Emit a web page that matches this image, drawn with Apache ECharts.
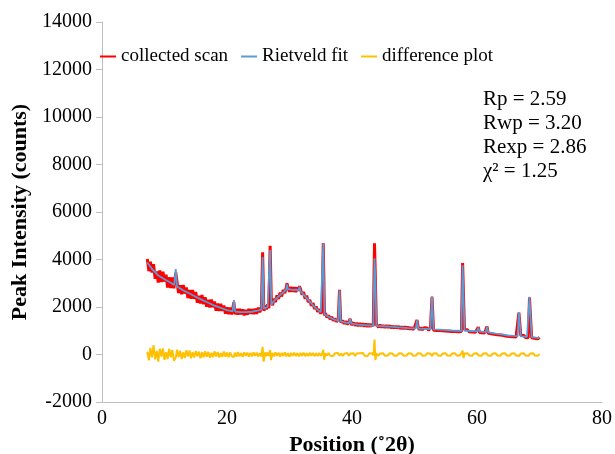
<!DOCTYPE html>
<html>
<head>
<meta charset="utf-8">
<script src="https://cdn.jsdelivr.net/npm/echarts@6/dist/echarts.min.js"></script>
<style>
  html, body { margin: 0; padding: 0; background: #fff; }
  #chartmain { width: 615px; height: 454px; }
</style>
</head>
<body>
<div id="chartmain"></div>
<script>
// axis ticks
var xTicks = [0, 20, 40, 60, 80];
var yTicks = [-2000, 0, 2000, 4000, 6000, 8000, 10000, 12000, 14000];

var seriesNames = ['collected scan', 'Rietveld fit', 'difference plot'];
var fitStats = ['Rp = 2.59', 'Rwp = 3.20', 'Rexp = 2.86', 'χ² = 1.25'];

// collected scan [2θ, counts]
var collected = [
  [7.25,4020],[7.5,3510],[7.75,3910],[8,3450],[8.25,3800],[8.5,3190],[8.75,3500],[9,3030],[9.25,3535],[9.5,3050],
  [9.75,3485],[10,3070],[10.25,3365],[10.5,2820],[10.75,3250],[11,2800],[11.25,3240],[11.5,2790],[11.8,3450],[12,3060],
  [12.25,2590],[12.5,2920],[12.75,2540],[13,2930],[13.25,2565],[13.5,2820],[13.75,2380],[14,2720],[14.25,2345],[14.5,2720],
  [14.75,2345],[15,2630],[15.25,2180],[15.5,2470],[15.75,2145],[16,2500],[16.25,2120],[16.5,2410],[16.75,2010],[17,2300],
  [17.25,1980],[17.5,2310],[17.75,1990],[18,2230],[18.25,1845],[18.5,2150],[18.75,1835],[19,2130],[19.25,1835],[19.5,2060],
  [19.75,1720],[20,1990],[20.25,1700],[20.5,1970],[20.75,1690],[20.9,1900],[21.1,2200],[21.3,1690],[21.5,1920],[21.75,1685],
  [22,1920],[22.25,1688],[22.5,1895],[22.75,1652],[23,1880],[23.25,1675],[23.5,1920],[23.75,1715],[24,1910],[24.25,1705],
  [24.5,1930],[24.75,1715],[25,1970],[25.25,1780],[25.5,1980],[25.7,4300],[25.9,1840],[26.1,2060],[26.3,1905],[26.5,2110],
  [26.7,1950],[26.9,4580],[27.1,2190],[27.3,2080],[27.5,2350],[27.75,2210],[28,2490],[28.25,2340],[28.5,2610],[28.75,2450],
  [29,2720],[29.25,2580],[29.45,2780],[29.6,3000],[29.75,2810],[30,2640],[30.25,2840],[30.5,2640],[30.75,2835],[31,2630],
  [31.25,2825],[31.45,2680],[31.6,2880],[31.75,2760],[32,2520],[32.25,2625],[32.5,2350],[32.75,2475],[33,2200],[33.25,2305],
  [33.5,2050],[33.75,2175],[34,1920],[34.25,2020],[34.5,1800],[34.75,1910],[35,1720],[35.2,1820],[35.4,4680],[35.6,1640],
  [35.75,1730],[36,1560],[36.25,1645],[36.5,1490],[36.75,1580],[37,1430],[37.25,1525],[37.5,1380],[37.8,1475],[38,2720],
  [38.2,1345],[38.5,1430],[38.75,1295],[39,1400],[39.25,1270],[39.5,1370],[39.7,1500],[39.9,1240],[40.25,1345],[40.5,1215],
  [40.75,1328],[41,1200],[41.25,1315],[41.5,1200],[41.75,1305],[42,1180],[42.25,1295],[42.5,1170],[42.75,1285],[43,1170],
  [43.2,1278],[43.4,1190],[43.6,4680],[43.75,3100],[43.9,1250],[44.25,1148],[44.5,1245],[44.75,1142],[45,1230],[45.25,1135],
  [45.5,1230],[45.75,1135],[46,1220],[46.25,1115],[46.5,1200],[46.75,1105],[47,1200],[47.25,1105],[47.5,1190],[47.75,1085],
  [48,1170],[48.25,1075],[48.5,1170],[48.75,1075],[49,1160],[49.25,1058],[49.5,1145],[49.75,1052],[50,1140],[50.2,1080],
  [50.4,1450],[50.6,1130],[50.75,1043],[51,1130],[51.25,1038],[51.5,1125],[51.75,1042],[52,1120],[52.25,1025],[52.55,1110],
  [52.8,2430],[53.05,1020],[53.25,1098],[53.5,1015],[53.75,1092],[54,1010],[54.25,1085],[54.5,1000],[54.75,1075],[55,990],
  [55.25,1065],[55.5,980],[55.75,1055],[56,970],[56.25,1048],[56.5,965],[56.75,1042],[57,960],[57.25,1038],[57.5,965],
  [57.7,3850],[57.85,2400],[58,1040],[58.25,965],[58.5,1040],[58.75,955],[59,1030],[59.25,948],[59.5,1025],[59.75,940],
  [60,1005],[60.2,1150],[60.4,930],[60.6,1005],[60.8,915],[61,990],[61.2,905],[61.4,970],[61.6,1180],[61.8,890],
  [62,965],[62.25,875],[62.5,945],[62.75,853],[63,920],[63.25,832],[63.5,905],[63.75,818],[64,890],[64.25,798],
  [64.5,865],[64.75,772],[65,840],[65.25,755],[65.5,830],[65.75,745],[66,820],[66.25,738],[66.5,805],[66.7,1760],
  [66.85,1320],[67,800],[67.25,722],[67.5,800],[67.75,712],[68,785],[68.2,710],[68.4,2400],[68.55,1650],[68.75,705],
  [69,765],[69.25,678],[69.5,750],[69.75,660],[70,720]
];

// Rietveld fit [2θ, counts]
var rietveld = [
  [7.25,3870],[8,3600],[9,3330],[10,3170],[11,3020],[11.55,2930],[11.8,3600],[12,2860],[13,2700],[14,2570],
  [15,2430],[16,2300],[17,2180],[18,2060],[19,1960],[20,1870],[20.9,1815],[21.1,2290],[21.3,1805],[22,1790],
  [23,1780],[24,1800],[25,1860],[25.5,1900],[25.7,4100],[25.9,1930],[26.5,2000],[26.7,2030],[26.9,4400],[27.1,2100],
  [27.5,2250],[28,2380],[28.5,2500],[29,2620],[29.45,2720],[29.6,2950],[29.75,2750],[30.5,2720],[31,2730],[31.45,2710],
  [31.6,2850],[31.75,2670],[32,2600],[32.5,2450],[33,2300],[33.5,2150],[34,2000],[34.5,1880],[35,1780],[35.2,1760],
  [35.4,4650],[35.6,1690],[36,1620],[37,1490],[37.8,1415],[38,2700],[38.2,1395],[39,1340],[39.5,1320],[39.7,1480],
  [39.9,1300],[41,1260],[42,1240],[43,1220],[43.4,1210],[43.6,4050],[43.75,3100],[43.9,1205],[45,1190],[46,1170],
  [47,1150],[48,1130],[49,1110],[50.2,1100],[50.4,1440],[50.6,1095],[51,1090],[52,1080],[52.55,1070],[52.8,2450],
  [53.05,1060],[54,1050],[55,1030],[56,1010],[57,1000],[57.5,995],[57.7,3760],[57.85,2400],[58,1010],[59,990],
  [60,975],[60.2,1130],[60.4,968],[61,950],[61.4,940],[61.6,1170],[61.8,930],[62,925],[63,880],[64,850],
  [65,800],[66,780],[66.5,775],[66.7,1780],[66.85,1320],[67,765],[68,745],[68.2,740],[68.4,2430],[68.55,1650],
  [68.75,735],[69,725],[70,690]
];

// difference plot [2θ, counts]
var difference = [
  [7.25,120],[7.5,-250],[7.75,280],[8,-120],[8.25,390],[8.5,-200],[8.75,150],[9,-300],[9.25,240],[9.5,-90],
  [9.75,260],[10,-230],[10.25,100],[10.5,-190],[10.75,240],[11,-120],[11.25,190],[11.5,-260],[11.8,-140],[12,200],
  [12.25,-110],[12.5,160],[12.75,-190],[13,90],[13.25,-150],[13.5,180],[13.75,-80],[14,170],[14.25,-160],[14.5,100],
  [14.75,-130],[15,150],[15.25,-70],[15.5,120],[15.75,-160],[16,90],[16.25,-120],[16.5,140],[16.75,-90],[17,110],
  [17.25,-140],[17.5,70],[17.75,-110],[18,130],[18.25,-80],[18.5,100],[18.75,-120],[19,60],[19.25,-100],[19.5,120],
  [19.75,-90],[20,80],[20.25,-110],[20.5,90],[20.75,-70],[21.1,-110],[21.25,80],[21.5,-90],[21.75,100],[22,-80],
  [22.25,60],[22.5,-100],[22.75,90],[23,-60],[23.25,80],[23.5,-90],[23.75,70],[24,-80],[24.25,90],[24.5,-60],
  [24.75,80],[25,-90],[25.25,60],[25.5,-80],[25.7,320],[25.85,-300],[26.1,90],[26.3,-70],[26.5,80],[26.7,-60],
  [26.9,190],[27.05,-240],[27.25,70],[27.5,-80],[27.75,90],[28,-60],[28.25,80],[28.5,-90],[28.75,70],[29,-60],
  [29.25,90],[29.5,-80],[29.75,60],[30,-90],[30.25,70],[30.5,-60],[30.75,80],[31,-70],[31.25,60],[31.5,-80],
  [31.75,70],[32,-60],[32.25,80],[32.5,-70],[32.75,50],[33,-60],[33.25,70],[33.5,-50],[33.75,60],[34,-70],
  [34.25,50],[34.5,-60],[34.75,60],[35,-50],[35.25,40],[35.4,200],[35.55,-220],[35.75,50],[36,-40],[36.25,60],
  [36.5,-50],[36.75,30],[37,-60],[37.25,50],[37.5,-30],[37.75,60],[38,-50],[38.25,40],[38.5,-60],[38.75,30],
  [39,-40],[39.25,60],[39.5,-50],[39.75,40],[40,-30],[40.25,50],[40.5,-60],[40.75,40],[41,-40],[41.25,50],
  [41.5,-30],[41.75,60],[42,-50],[42.25,30],[42.5,-60],[42.75,40],[43,-40],[43.25,50],[43.45,-40],[43.6,630],
  [43.75,-240],[43.9,40],[44.25,-50],[44.5,40],[44.75,-30],[45,50],[45.25,-50],[45.5,30],[45.75,-40],[46,50],
  [46.25,-30],[46.5,40],[46.75,-50],[47,30],[47.25,-40],[47.5,50],[47.75,-30],[48,40],[48.25,-50],[48.5,30],
  [48.75,-40],[49,50],[49.25,-30],[49.5,40],[49.75,-50],[50,30],[50.25,-40],[50.5,50],[50.75,-30],[51,40],
  [51.25,-50],[51.5,30],[51.75,-40],[52,50],[52.25,-30],[52.5,40],[52.8,-60],[53,40],[53.25,-30],[53.5,50],
  [53.75,-40],[54,30],[54.25,-50],[54.5,40],[54.75,-30],[55,50],[55.25,-40],[55.5,30],[55.75,-50],[56,40],
  [56.25,-30],[56.5,50],[56.75,-40],[57,30],[57.25,-40],[57.5,50],[57.7,160],[57.85,-150],[58,40],[58.25,-30],
  [58.5,50],[58.75,-40],[59,30],[59.25,-50],[59.5,40],[59.75,-30],[60,50],[60.25,-40],[60.5,30],[60.75,-50],
  [61,40],[61.25,-30],[61.5,50],[61.75,-40],[62,30],[62.25,-50],[62.5,40],[62.75,-30],[63,50],[63.25,-40],
  [63.5,30],[63.75,-50],[64,40],[64.25,-30],[64.5,50],[64.75,-40],[65,30],[65.25,-50],[65.5,40],[65.75,-30],
  [66,50],[66.25,-40],[66.5,30],[66.75,-60],[67,40],[67.25,-30],[67.5,50],[67.75,-40],[68,30],[68.25,-50],
  [68.5,40],[68.75,-30],[69,50],[69.25,-40],[69.5,30],[69.75,-50],[70,20]
];

var serif = '"Liberation Serif", "Times New Roman", serif';

var option = {
  animation: false,
  backgroundColor: '#fff',
  textStyle: { fontFamily: serif },
  grid: { left: 102, right: 13, top: 22, bottom: 52, containLabel: false, outerBoundsMode: 'none' },
  legend: {
    left: 95, top: 42,
    icon: 'rect', itemWidth: 16, itemHeight: 2, itemGap: 13,
    textStyle: { fontFamily: serif, fontSize: 19, color: '#000' },
    data: seriesNames
  },
  graphic: [{
    type: 'text', left: 483, top: 87,
    style: {
      text: fitStats.join('\n'),
      font: '21px ' + serif,
      lineHeight: 24,
      fill: '#000'
    }
  }],
  xAxis: {
    type: 'value',
    min: xTicks[0], max: xTicks[xTicks.length - 1], interval: 20,
    name: 'Position (˚2θ)', nameLocation: 'middle', nameGap: 28,
    nameTextStyle: { fontFamily: serif, fontSize: 22, fontWeight: 'bold', color: '#000' },
    axisLine: { onZero: false, lineStyle: { color: '#bfbfbf', width: 1 } },
    axisTick: { show: false },
    axisLabel: { fontFamily: serif, fontSize: 20, color: '#000', margin: 7 },
    splitLine: { show: false }
  },
  yAxis: {
    type: 'value',
    min: yTicks[0], max: yTicks[yTicks.length - 1], interval: 2000,
    name: 'Peak Intensity (counts)', nameLocation: 'middle', nameGap: 67, nameRotate: 90,
    nameTextStyle: { fontFamily: serif, fontSize: 22, fontWeight: 'bold', color: '#000' },
    axisLine: { show: true, lineStyle: { color: '#bfbfbf', width: 1 } },
    axisTick: { show: true, inside: false, length: 6, lineStyle: { color: '#bfbfbf' } },
    axisLabel: {
      fontFamily: serif, fontSize: 20, color: '#000', margin: 10,
      formatter: function (v) { return String(v); }
    },
    splitLine: { show: false }
  },
  series: [
    {
      name: seriesNames[0], type: 'line', data: collected,
      showSymbol: false, symbol: 'none',
      itemStyle: { color: '#ff0000' },
      lineStyle: { color: '#ff0000', width: 3 }
    },
    {
      name: seriesNames[1], type: 'line', data: rietveld,
      showSymbol: false, symbol: 'none',
      itemStyle: { color: '#5b9bd5' },
      lineStyle: { color: '#5b9bd5', width: 1.8 }
    },
    {
      name: seriesNames[2], type: 'line', data: difference,
      showSymbol: false, symbol: 'none',
      itemStyle: { color: '#ffc000' },
      lineStyle: { color: '#ffc000', width: 2 }
    }
  ]
};

var myChart = echarts.init(document.getElementById('chartmain'));
myChart.setOption(option);
</script>
</body>
</html>
